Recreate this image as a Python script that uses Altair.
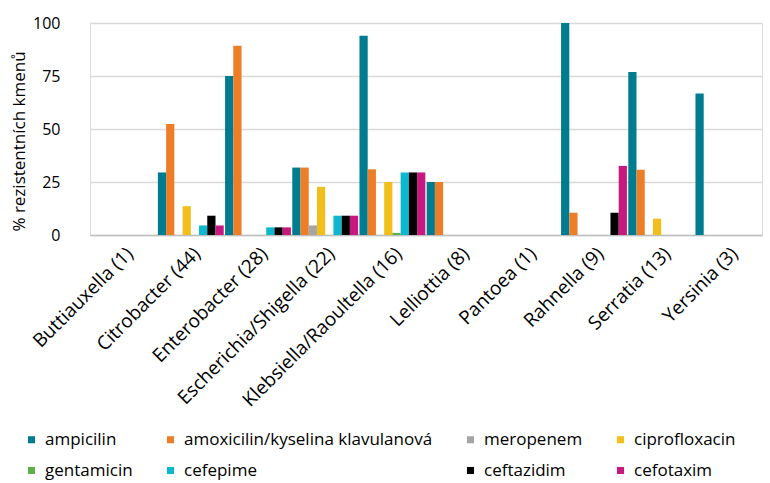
import altair as alt
import pandas as pd

categories = ["Buttiauxella (1)", "Citrobacter (44)", "Enterobacter (28)",
              "Escherichia/Shigella (22)", "Klebsiella/Raoultella (16)",
              "Lelliottia (8)", "Pantoea (1)", "Rahnella (9)", "Serratia (13)",
              "Yersinia (3)"]

series_names = ["ampicilin", "amoxicilin/kyselina klavulanová", "meropenem",
                "ciprofloxacin", "gentamicin", "cefepime", "ceftazidim", "cefotaxim"]

ampicilin = [0, 29.5, 75, 31.8, 94, 25, 0, 100, 76.9, 66.7]
amoxicilin = [0, 52.3, 89.3, 31.8, 31, 25, 0, 10.5, 30.8, 0]
meropenem = [0, 0, 0, 4.5, 0, 0, 0, 0, 0, 0]
ciprofloxacin = [0, 13.6, 0, 22.7, 25, 0, 0, 0, 7.7, 0]
gentamicin = [0, 0, 0, 0, 1, 0, 0, 0, 0, 0]
cefepime = [0, 4.5, 3.6, 9.1, 29.5, 0, 0, 0, 0, 0]
ceftazidim = [0, 9.1, 3.6, 9.1, 29.5, 0, 0, 10.5, 0, 0]
cefotaxim = [0, 4.5, 3.6, 9.1, 29.5, 0, 0, 32.6, 0, 0]

colors = ["#007C91", "#ED7D27", "#A5A5A5", "#F2BE1C", "#5BB04A", "#0BB8D0",
          "#000000", "#C8177E"]

series_values = [ampicilin, amoxicilin, meropenem, ciprofloxacin, gentamicin,
                 cefepime, ceftazidim, cefotaxim]

rows = []
for name, vals in zip(series_names, series_values):
    for cat, v in zip(categories, vals):
        rows.append({"kmen": cat, "antibiotikum": name, "hodnota": v})
df = pd.DataFrame(rows)

FONT = "Open Sans"

chart = alt.Chart(df).mark_bar().encode(
    x=alt.X("kmen:N", sort=categories, title=None,
            scale=alt.Scale(paddingInner=0.02, paddingOuter=0.01),
            axis=alt.Axis(labelAngle=-45, labelFontSize=19, labelColor="#000000",
                          ticks=False, domainColor="#bfbfbf", domainWidth=1.5,
                          labelPadding=9, labelFont=FONT, labelLimit=300)),
    xOffset=alt.XOffset("antibiotikum:N", sort=series_names,
                        scale=alt.Scale(paddingInner=0, paddingOuter=0)),
    y=alt.Y("hodnota:Q", title="% rezistentních kmenů",
            scale=alt.Scale(domain=[0, 100], nice=False),
            axis=alt.Axis(values=[0, 25, 50, 75, 100], domain=False, ticks=False,
                          labelPadding=30, labelFontSize=16, labelColor="#000000",
                          labelFont=FONT, titleFont=FONT, titleFontSize=17,
                          titleFontWeight="normal", titleColor="#000000",
                          titlePadding=4, titleY=118,
                          gridColor="#d9d9d9", gridWidth=1.5)),
    color=alt.Color("antibiotikum:N", sort=series_names,
                    scale=alt.Scale(domain=series_names, range=colors),
                    legend=alt.Legend(title=None, orient="none", legendX=-67,
                                      legendY=408, columns=4, columnPadding=29,
                                      direction="horizontal",
                                      rowPadding=13, symbolType="square",
                                      symbolSize=50, symbolStrokeWidth=0,
                                      labelFontSize=17, labelFont=FONT,
                                      labelColor="#000000", labelOffset=5,
                                      labelLimit=400)),
).properties(
    width=672, height=212,
    autosize=alt.AutoSizeParams(type="none"),
    padding={"left": 90, "top": 23, "right": 8, "bottom": 248},
).configure_view(stroke=None).configure(background="white")

chart.save("out.html", embed_options={"renderer": "svg", "actions": False})
